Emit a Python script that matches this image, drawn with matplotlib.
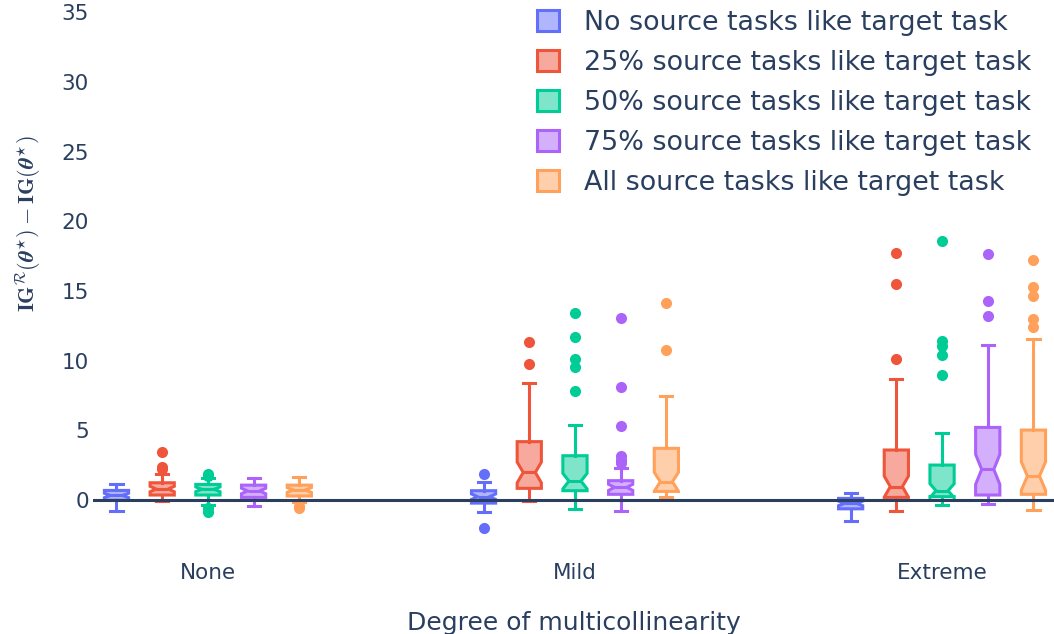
import numpy as np
import matplotlib
matplotlib.use("Agg")
import matplotlib.pyplot as plt
from matplotlib.patches import Patch

plt.rcParams['font.family'] = ['DejaVu Sans']
plt.rcParams['mathtext.fontset'] = 'cm'

# categories on the x axis
categories = ["None", "Mild", "Extreme"]

series = ["No source tasks like target task",
          "25% source tasks like target task",
          "50% source tasks like target task",
          "75% source tasks like target task",
          "All source tasks like target task"]
colors = ["#636efa", "#EF553B", "#00cc96", "#ab63fa", "#FFA15A"]

# box statistics, one row per series, columns = None, Mild, Extreme
whislo = [[-0.80, -0.84, -1.51],
          [-0.05, -0.05, -0.79],
          [-0.36, -0.67, -0.36],
          [-0.40, -0.77, -0.31],
          [-0.12, 0.19, -0.72]]
q1 = [[-0.02, -0.22, -0.63],
      [0.36, 0.84, 0.19],
      [0.36, 0.67, 0.24],
      [0.19, 0.41, 0.36],
      [0.29, 0.62, 0.41]]
med = [[0.33, 0.24, -0.24],
       [0.79, 1.98, 0.96],
       [0.77, 1.36, 0.67],
       [0.65, 0.91, 2.20],
       [0.72, 1.31, 1.72]]
q3 = [[0.69, 0.67, 0.12],
      [1.24, 4.19, 3.59],
      [1.12, 3.18, 2.51],
      [1.07, 1.39, 5.21],
      [1.07, 3.71, 5.02]]
whishi = [[1.12, 1.30, 0.48],
          [1.90, 8.42, 8.68],
          [1.55, 5.38, 4.78],
          [1.55, 2.27, 11.10],
          [1.63, 7.48, 11.57]]
outliers = [[[], [1.86, -2.0], []],
            [[3.42, 2.39, 2.20], [11.31, 9.73], [17.74, 15.47, 10.09]],
            [[1.90, 1.72, -0.58, -0.84], [13.39, 11.72, 10.11, 9.57, 7.84],
             [18.58, 11.43, 11.05, 10.40, 8.94]],
            [[], [13.08, 8.08, 5.33, 3.18, 2.87, 2.63], [17.65, 14.25, 13.22]],
            [[-0.45, -0.60], [14.11, 10.76], [17.22, 15.30, 14.63, 12.96, 12.39]]]
n_obs = 50

fig = plt.figure(figsize=(10.54, 6.34), dpi=100)
ax = fig.add_axes([93/1054, 1-548/634, 1-93/1054, 548/634])

text_col = "#2a3f5f"
step = 0.1245
width = 0.066
lw = 2.2
for s in range(5):
    stats = []
    for c in range(3):
        iqr = q3[s][c] - q1[s][c]
        half = 1.57 * iqr / np.sqrt(n_obs)
        stats.append(dict(med=med[s][c], q1=q1[s][c], q3=q3[s][c],
                          whislo=whislo[s][c], whishi=whishi[s][c],
                          fliers=outliers[s][c],
                          cilo=med[s][c] - half, cihi=med[s][c] + half))
    pos = np.arange(3) + (s - 2) * step
    col = colors[s]
    ax.bxp(stats, positions=pos, widths=width, shownotches=True,
           patch_artist=True, manage_ticks=False,
           boxprops=dict(facecolor=matplotlib.colors.to_rgba(col, 0.5),
                         edgecolor=col, linewidth=lw),
           medianprops=dict(color=col, linewidth=lw),
           whiskerprops=dict(color=col, linewidth=lw),
           capprops=dict(color=col, linewidth=lw),
           flierprops=dict(marker='o', markerfacecolor=col,
                           markeredgecolor='none', markersize=8))

ax.axhline(0, color=text_col, linewidth=2.2, zorder=10)
ax.set_xlim(-0.313, 2.305)
ax.set_ylim(-3.44, 35.87)
ax.set_yticks(np.arange(0, 36, 5))
ax.set_xticks(range(3))
ax.set_xticklabels(categories)
ax.tick_params(axis='both', length=0, labelsize=15.5, labelcolor=text_col)
ax.tick_params(axis='x', pad=11)
ax.tick_params(axis='y', pad=3)
for sp in ax.spines.values():
    sp.set_visible(False)

ax.set_xlabel("Degree of multicollinearity", fontsize=18, color=text_col,
              labelpad=20)
fig.text(28/1054, 1-224/634,
         r'$\mathbf{IG}^{\mathcal{R}}(\boldsymbol{\theta}^{\star})-\mathbf{IG}(\boldsymbol{\theta}^{\star})$',
         rotation=90, ha='center', va='center', fontsize=16, color=text_col)

handles = [Patch(facecolor=matplotlib.colors.to_rgba(c, 0.5), edgecolor=c,
                 linewidth=lw) for c in colors]
fig.legend(handles, series, loc='upper left', bbox_to_anchor=(513/1054, 1.023),
           frameon=False, fontsize=19.4, labelcolor=text_col,
           handlelength=0.8, handleheight=0.8, handletextpad=0.95,
           labelspacing=0.52)

fig.savefig("out.png", dpi=100)
